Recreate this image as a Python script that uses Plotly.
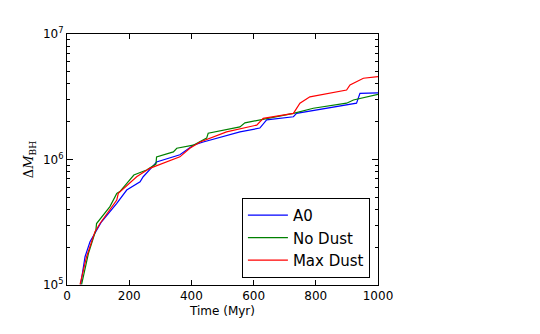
import plotly.graph_objects as go

# A0 run
t_a0 = [44, 58, 74, 90, 111, 160, 192, 235, 245, 272, 288, 363, 406, 438, 556, 620, 642, 728, 738, 931, 942, 1000]
m_a0 = [1.01e5, 1.68e5, 2.21e5, 2.57e5, 3.19e5, 4.47e5, 5.71e5, 6.65e5, 7.29e5, 8.6e5, 9.55e5, 1.09e6, 1.30e6, 1.38e6,
        1.66e6, 1.78e6, 2.07e6, 2.19e6, 2.33e6, 2.81e6, 3.37e6, 3.40e6]

# No Dust run
t_nd = [47, 69, 93, 95, 138, 160, 170, 208, 215, 256, 272, 286, 288, 342, 353, 406, 449, 454, 556, 572, 728, 792, 899,
        921, 1000]
m_nd = [1.01e5, 1.79e5, 2.75e5, 3.09e5, 4.21e5, 5.37e5, 5.55e5, 7.29e5, 7.52e5, 8.24e5, 8.77e5, 9.2e5, 1.05e6, 1.15e6,
        1.23e6, 1.30e6, 1.48e6, 1.62e6, 1.82e6, 1.96e6, 2.33e6, 2.56e6, 2.81e6, 2.98e6, 3.30e6]

# Max Dust run
t_md = [42, 63, 90, 106, 160, 165, 224, 266, 363, 395, 428, 513, 610, 631, 728, 749, 781, 867, 899, 910, 953, 1000]
m_md = [1.01e5, 1.68e5, 2.66e5, 3.09e5, 4.75e5, 5.37e5, 7.29e5, 8.5e5, 1.05e6, 1.23e6, 1.38e6, 1.66e6, 1.88e6,
        2.13e6, 2.33e6, 2.81e6, 3.16e6, 3.47e6, 3.58e6, 3.93e6, 4.44e6, 4.57e6]

series = [("A0", t_a0, m_a0, "#0000ff"), ("No Dust", t_nd, m_nd, "#008000"), ("Max Dust", t_md, m_md, "#ff0000")]

fig = go.Figure()
for name, t, m, color in series:
    fig.add_trace(go.Scatter(x=t, y=m, name=name, mode="lines", line=dict(color=color, width=1.2)))

# invisible trace so the minor-tick overlay axis gets drawn
fig.add_trace(go.Scatter(x=[0], y=[1e5], yaxis="y2", mode="lines", showlegend=False,
                         hoverinfo="skip", line=dict(width=0)))

minor_vals = [k * 10 ** e for e in (5, 6) for k in range(2, 10)]

fig.update_layout(
    width=540,
    height=334,
    # page body carries an 8px offset
    margin=dict(l=59, r=170, t=26, b=57),
    paper_bgcolor="white",
    plot_bgcolor="white",
    font=dict(family="DejaVu Sans", size=12, color="black"),
    showlegend=True,
    legend=dict(
        x=0.974, y=0.028, xanchor="right", yanchor="bottom",
        bordercolor="black", borderwidth=1, bgcolor="white",
        font=dict(size=15), tracegroupgap=0, itemwidth=40,
    ),
    xaxis=dict(
        range=[0, 1000], tickvals=[0, 200, 400, 600, 800, 1000],
        ticks="inside", ticklen=5, tickcolor="black", showline=True, linecolor="black", linewidth=1,
        mirror="ticks", showgrid=False, zeroline=False,
        title=dict(text="Time (Myr)", standoff=4, font=dict(size=12)),
    ),
    yaxis=dict(
        type="log", range=[5, 7], tickvals=[1e5, 1e6, 1e7],
        ticktext=["10<sup>5</sup>", "10<sup>6</sup>", "10<sup>7</sup>"],
        ticks="inside", ticklen=6, tickcolor="black", showline=True, linecolor="black", linewidth=1,
        mirror="ticks", showgrid=False, zeroline=False,
        title=dict(text="Δ<i>M</i><sub>BH</sub>", standoff=6, font=dict(family="DejaVu Serif", size=13)),
    ),
    yaxis2=dict(
        type="log", range=[5, 7], overlaying="y", side="left", anchor="x",
        tickvals=minor_vals, showticklabels=False,
        ticks="inside", ticklen=3, tickcolor="black", showline=False, mirror="ticks",
        showgrid=False, zeroline=False,
    ),
)

fig.write_html("out.html")
